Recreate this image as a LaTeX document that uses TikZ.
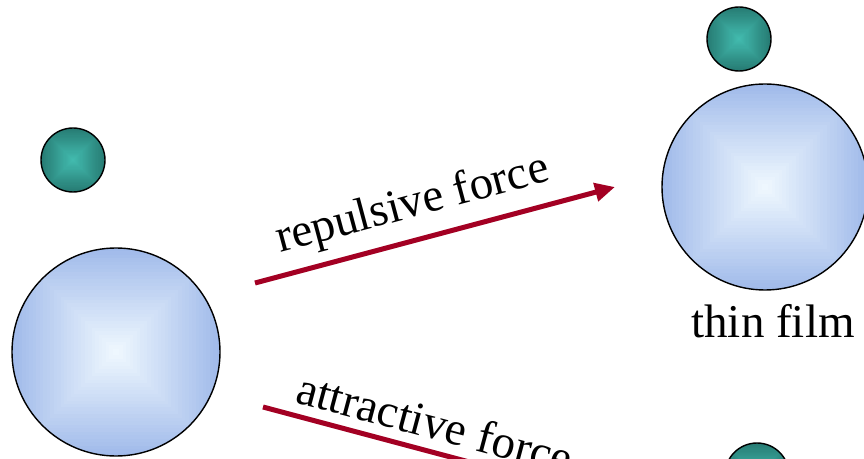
\documentclass[tikz,border=0pt]{standalone}
\usepackage{fontspec}
\setmainfont{Liberation Serif}
\usepackage{xcolor}
\usepackage{tikz}
\usetikzlibrary{arrows.meta}

\definecolor{filmblue}{RGB}{160,186,234}
\definecolor{filmcore}{RGB}{238,247,254}
\definecolor{ionteal}{RGB}{38,122,114}
\definecolor{ioncore}{RGB}{66,186,174}
\definecolor{forcered}{RGB}{163,0,35}

% ball with square gradient: name, centre, radius, outer colour, inner colour
\newcommand{\sqball}[5]{%
  \begin{scope}[shift={#2}]
    \clip (0,0) circle (#3pt);
    \foreach \k in {0,...,29}{
      \pgfmathsetmacro\side{#3*(1-\k/30)}
      \pgfmathtruncatemacro\mixp{100-\k*100/29}
      \fill[#4!\mixp!#5] (-\side,-\side) rectangle (\side,\side);
    }
  \end{scope}
  \node[ballrim,minimum size={2*#3pt}] (#1) at #2 {};
}

\tikzset{
  ballrim/.style={circle,draw=black,line width=1.4pt,inner sep=0pt,outer sep=0pt},
  forcearrow/.style={draw=forcered,line width=5pt,-{Triangle[length=20pt,width=18pt]}},
  forcelabel/.style={inner sep=0pt,font=\fontsize{47}{56}\selectfont}
}

\begin{document}
\begin{tikzpicture}[x=1pt,y=1pt]
\clip (0,0) rectangle (864,458);
\fill[white] (0,0) rectangle (864,458);

% particles and films
\sqball{ionleft}{(73,298)}{32}{ionteal}{ioncore}
\sqball{filmleft}{(116,106)}{104}{filmblue}{filmcore}
\sqball{iontop}{(739,419)}{32}{ionteal}{ioncore}
\sqball{filmright}{(765,271)}{103}{filmblue}{filmcore}
\sqball{ionbottom}{(757,-17)}{32}{ionteal}{ioncore}

\node[forcelabel,anchor=base] (filmlabel) at (773,121) {thin film};

% forces
\coordinate (repstart) at (255,175);
\coordinate (repend) at (615,271);
\draw[forcearrow] (repstart) -- (repend);
\node[forcelabel,anchor=base west,rotate=15] (replabel) at (280,205) {repulsive force};

\coordinate (attstart) at (263,51);
\coordinate (attend) at (623,-45);
\draw[forcearrow] (attstart) -- (attend);
\node[forcelabel,anchor=base west,rotate=-15] (attlabel) at (294,56) {attractive force};
\end{tikzpicture}
\end{document}
